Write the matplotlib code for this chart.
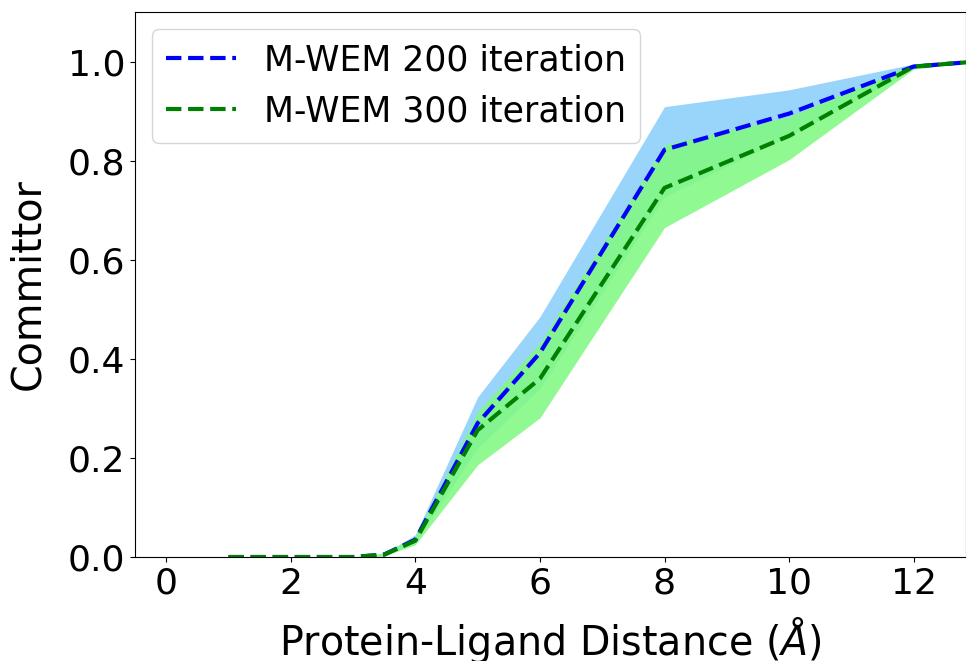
import numpy as np
import matplotlib
matplotlib.use('Agg')
import matplotlib.pyplot as plt

# distancias (Å) y committor
dist = [1, 2, 3, 3.5, 4, 5, 6, 8, 10, 12, 13]

c200 = [0.0, 0.0, 0.0, 0.005, 0.035, 0.27, 0.412, 0.822, 0.895, 0.99, 1.0]
c200_lo = [0.0, 0.0, 0.0, 0.003, 0.03, 0.22, 0.34, 0.727, 0.85, 0.985, 1.0]
c200_hi = [0.0, 0.0, 0.0, 0.007, 0.045, 0.323, 0.485, 0.909, 0.943, 0.995, 1.0]

c300 = [0.0, 0.0, 0.0, 0.005, 0.033, 0.256, 0.36, 0.745, 0.85, 0.99, 1.0]
c300_lo = [0.0, 0.0, 0.0, 0.002, 0.025, 0.186, 0.281, 0.665, 0.802, 0.985, 1.0]
c300_hi = [0.0, 0.0, 0.0, 0.008, 0.042, 0.293, 0.432, 0.832, 0.889, 0.995, 1.0]

fig = plt.figure(figsize=(9.66, 6.61), dpi=100)
ax = fig.add_axes([0.1398, 0.1573, 0.8602, 0.8245])

ax.fill_between(dist, c200_lo, c200_hi, color='lightskyblue', alpha=0.85, linewidth=0)
ax.fill_between(dist, c300_lo, c300_hi, color='#82F982', alpha=0.88, linewidth=0)
ax.plot(dist, c200, '--', color='blue', linewidth=3, label='M-WEM 200 iteration')
ax.plot(dist, c300, '--', color='green', linewidth=3, label='M-WEM 300 iteration')

ax.set_xlim(-0.5, 12.84)
ax.set_ylim(0, 1.1)
ax.set_xticks([0, 2, 4, 6, 8, 10, 12])
ax.set_yticks([0.0, 0.2, 0.4, 0.6, 0.8, 1.0])
ax.tick_params(labelsize=26)
ax.set_xlabel('Protein-Ligand Distance ($\\AA$)', fontsize=28.5, labelpad=10)
ax.set_ylabel('Committor', fontsize=28.5, labelpad=14)
ax.legend(loc='upper left', fontsize=25)

fig.savefig('out.png', dpi=100)
